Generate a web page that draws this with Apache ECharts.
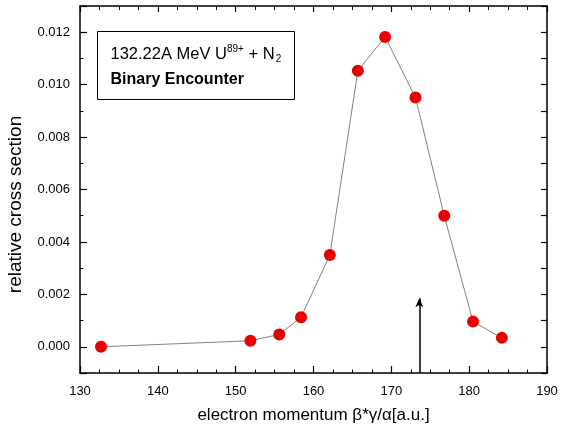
<!DOCTYPE html>
<html>
<head>
<meta charset="utf-8">
<script src="https://cdn.jsdelivr.net/npm/echarts@6/dist/echarts.min.js"></script>
<style>
  html, body { margin: 0; padding: 0; background: #fff; }
  #chart { width: 564px; height: 428px; }
</style>
</head>
<body>
<div id="chart"></div>
<script>
// electron momentum vs relative cross section
const momentum = [132.7, 151.9, 155.6, 158.4, 162.1, 165.7, 169.2, 173.1, 176.8, 180.5, 184.2]
const crossSection = [0.0, 0.00023, 0.00047, 0.00113, 0.0035, 0.01053, 0.01182, 0.00951, 0.0050, 0.00096, 0.00034]
// arrow marking the expected position
const arrowX = 173.6
const arrowY = [-0.001, 0.00185]

const xMin = 130, xMax = 190
const yMin = -0.001, yMax = 0.013

const font = 'Liberation Sans, Arial, sans-serif'

const data = momentum.map((x, i) => [x, crossSection[i]])

function axisLine() {
  return { show: true, onZero: false, lineStyle: { color: '#000', width: 1.5 } }
}

const chart = echarts.init(document.getElementById('chart'))
chart.setOption({
  animation: false,
  grid: { left: 80, right: 17, top: 6, bottom: 55, outerBoundsMode: 'none', containLabel: false },
  xAxis: [
    {
      type: 'value', position: 'bottom', min: xMin, max: xMax, interval: 10,
      name: 'electron momentum β*γ/α[a.u.]', nameLocation: 'middle', nameGap: 34,
      nameTextStyle: { fontFamily: font, fontSize: 17, color: '#000' },
      axisLine: axisLine(),
      axisTick: { show: true, inside: true, length: 7, lineStyle: { color: '#000', width: 1.2 } },
      minorTick: { show: true, splitNumber: 4, length: 3.5, lineStyle: { color: '#000', width: 1 } },
      axisLabel: { fontFamily: font, fontSize: 13, color: '#000', margin: 12 },
      splitLine: { show: false }
    },
    {
      type: 'value', position: 'top', min: xMin, max: xMax, interval: 10,
      axisLine: axisLine(),
      axisTick: { show: true, inside: true, length: 6, lineStyle: { color: '#000', width: 1.2 } },
      minorTick: { show: true, splitNumber: 4, length: 4, lineStyle: { color: '#000', width: 1 } },
      axisLabel: { show: false },
      splitLine: { show: false }
    }
  ],
  yAxis: [
    {
      // nice interval works out to 0.002 without setting it
      type: 'value', position: 'left', min: yMin, max: yMax, splitNumber: 7,
      name: 'relative cross section', nameLocation: 'middle', nameGap: 55,
      nameTextStyle: { fontFamily: font, fontSize: 19, color: '#000', padding: [0, 30, 0, 0] },
      axisLine: axisLine(),
      axisTick: { show: true, inside: true, length: 7, lineStyle: { color: '#000', width: 1.2 } },
      minorTick: { show: true, splitNumber: 2, length: 3.5, lineStyle: { color: '#000', width: 1 } },
      axisLabel: {
        fontFamily: font, fontSize: 13, color: '#000', margin: 10,
        showMinLabel: false, showMaxLabel: false,
        formatter: v => v.toFixed(3)
      },
      splitLine: { show: false }
    },
    {
      type: 'value', position: 'right', min: yMin, max: yMax, interval: 0.001,
      axisLine: axisLine(),
      axisTick: { show: true, inside: true, length: 6, lineStyle: { color: '#000', width: 1.2 } },
      axisLabel: { show: false },
      splitLine: { show: false }
    }
  ],
  graphic: [
    {
      type: 'group', left: 97, top: 31,
      children: [
        {
          type: 'rect', shape: { x: 0, y: 0, width: 197, height: 68 },
          style: { fill: '#fff', stroke: '#000', lineWidth: 1 }
        },
        {
          type: 'text', x: 13, y: 13,
          style: {
            text: '{a|132.22A MeV U}{sup|89+}{a| + N}{sub|2}',
            rich: {
              a: { fontFamily: font, fontSize: 16.5, color: '#000', lineHeight: 20 },
              sup: { fontFamily: font, fontSize: 10, color: '#000', verticalAlign: 'top', lineHeight: 20, padding: [0, 0, 8, 0] },
              sub: { fontFamily: font, fontSize: 10, color: '#000', verticalAlign: 'bottom', lineHeight: 20, padding: [6, 0, 0, 1] }
            }
          }
        },
        {
          type: 'text', x: 13, y: 40,
          style: { text: 'Binary Encounter', fontFamily: font, fontSize: 16, fontWeight: 'bold', fill: '#000' }
        }
      ]
    }
  ],
  series: [
    {
      type: 'line',
      xAxisIndex: 0, yAxisIndex: 0,
      data: data,
      symbol: 'circle', symbolSize: 12,
      itemStyle: { color: '#e60000' },
      lineStyle: { color: '#808080', width: 1 },
      z: 3,
      markLine: {
        silent: true,
        symbol: ['none', 'arrow'],
        symbolSize: [6, 9],
        label: { show: false },
        lineStyle: { color: '#000', width: 1.5, type: 'solid' },
        data: [[{ coord: [arrowX, arrowY[0]] }, { coord: [arrowX, arrowY[1]] }]]
      }
    }
  ]
})
</script>
</body>
</html>
